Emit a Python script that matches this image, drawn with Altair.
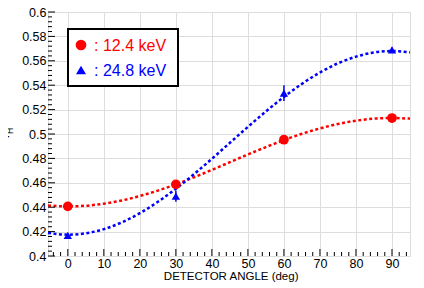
import altair as alt
import pandas as pd

# measured points
angles = [0, 30, 60, 90]
r_124 = [0.4407, 0.4587, 0.4953, 0.5131]
e_124 = [0.0015, 0.0015, 0.0015, 0.0015]
r_248 = [0.4169, 0.4490, 0.5335, 0.5690]
e_248 = [0.0020, 0.0045, 0.0065, 0.0020]

# fitted curves
curve_x = [-5.5, 0, 5, 10, 15, 20, 25, 30, 35, 40, 45, 50, 55, 60, 65, 70, 75, 80, 85, 90, 95]
curve_124 = [0.4414, 0.4407, 0.4412, 0.4429, 0.4455, 0.4492, 0.4536, 0.4588, 0.4645, 0.4706,
             0.4769, 0.4832, 0.4893, 0.4950, 0.5002, 0.5046, 0.5082, 0.5109, 0.5126, 0.5131, 0.5126]
curve_248 = [0.4189, 0.4175, 0.4186, 0.4220, 0.4276, 0.4351, 0.4444, 0.4551, 0.4670, 0.4797,
             0.4928, 0.5058, 0.5185, 0.5304, 0.5411, 0.5504, 0.5579, 0.5634, 0.5669, 0.5680, 0.5669]

x_major = [0, 10, 20, 30, 40, 50, 60, 70, 80, 90]
x_minor = [v for v in range(-4, 95, 2) if v % 10 != 0]
y_major = [0.4, 0.42, 0.44, 0.46, 0.48, 0.5, 0.52, 0.54, 0.56, 0.58, 0.6]
y_minor = [round(0.4 + 0.004 * i, 3) for i in range(51) if i % 5 != 0]

W, H = 362, 244
FONT = "Liberation Sans"
RED, BLUE = "#ff0000", "#0000ff"

xs = alt.Scale(domain=[-5.5, 95], nice=False, zero=False)
ys = alt.Scale(domain=[0.4, 0.6], nice=False, zero=False)

pts = pd.DataFrame({
    "angle": angles * 2,
    "r": r_124 + r_248,
    "lo": [a - b for a, b in zip(r_124, e_124)] + [a - b for a, b in zip(r_248, e_248)],
    "hi": [a + b for a, b in zip(r_124, e_124)] + [a + b for a, b in zip(r_248, e_248)],
    "series": ["12.4"] * 4 + ["24.8"] * 4,
})
curves = pd.DataFrame({
    "angle": curve_x * 2,
    "r": curve_124 + curve_248,
    "series": ["12.4"] * len(curve_x) + ["24.8"] * len(curve_x),
})
color = alt.Color("series:N", scale=alt.Scale(domain=["12.4", "24.8"], range=[RED, BLUE]), legend=None)

xaxis = alt.Axis(values=x_major, tickCount=20, grid=True, ticks=False, domain=False, labelFont=FONT,
                 labelFontSize=12.5, labelColor="black", labelPadding=1,
                 labelOverlap=False, labelFlush=False,
                 title="DETECTOR ANGLE (deg)", titleFont=FONT, titleFontSize=11.5,
                 titleFontWeight="normal", titleColor="black", titleAlign="right",
                 titleBaseline="alphabetic", titleX=250, titleY=23.5)
yaxis = alt.Axis(values=y_major, tickCount=20, grid=True, ticks=False, domain=False, labelFont=FONT,
                 labelFontSize=12.5, labelColor="black", labelPadding=2, title=None,
                 labelOverlap=False, labelFlush=False,
                 labelExpr="format(datum.value, '.2~f')")

base = alt.Chart(pts)

grid = alt.Chart(pd.DataFrame({"angle": [0], "r": [0.5]})).mark_point(opacity=0).encode(
    x=alt.X("angle:Q", scale=xs, axis=xaxis),
    y=alt.Y("r:Q", scale=ys, axis=yaxis),
)

lines = alt.Chart(curves).mark_line(strokeWidth=2.5, strokeDash=[3, 2.5], interpolate="monotone").encode(
    x=alt.X("angle:Q", scale=xs), y=alt.Y("r:Q", scale=ys), color=color, detail="series:N")

errs = base.mark_rule(strokeWidth=1.5).encode(
    x=alt.X("angle:Q", scale=xs), y=alt.Y("lo:Q", scale=ys), y2="hi:Q", color=color)

circles = base.transform_filter("datum.series == '12.4'").mark_point(
    shape="circle", filled=True, size=95, opacity=1).encode(
    x=alt.X("angle:Q", scale=xs), y=alt.Y("r:Q", scale=ys), color=color)
tris = base.transform_filter("datum.series == '24.8'").mark_point(
    shape="triangle-up", filled=True, size=70, opacity=1).encode(
    x=alt.X("angle:Q", scale=xs), y=alt.Y("r:Q", scale=ys), color=color)

# inward ticks
xt_major = alt.Chart(pd.DataFrame({"t": x_major})).mark_rule(color="black", strokeWidth=1).encode(
    x=alt.X("t:Q", scale=xs), y=alt.value(H), y2=alt.value(H - 7))
xt_minor = alt.Chart(pd.DataFrame({"t": x_minor})).mark_rule(color="black", strokeWidth=1).encode(
    x=alt.X("t:Q", scale=xs), y=alt.value(H), y2=alt.value(H - 4))
yt_major = alt.Chart(pd.DataFrame({"t": y_major})).mark_rule(color="black", strokeWidth=1).encode(
    y=alt.Y("t:Q", scale=ys), x=alt.value(0), x2=alt.value(7))
yt_minor = alt.Chart(pd.DataFrame({"t": y_minor})).mark_rule(color="black", strokeWidth=1).encode(
    y=alt.Y("t:Q", scale=ys), x=alt.value(0), x2=alt.value(4))

# legend box
one = pd.DataFrame({"k": [0]})
box = alt.Chart(one).mark_rect(fill="white", stroke="black", strokeWidth=2).encode(
    x=alt.value(20), x2=alt.value(130), y=alt.value(17), y2=alt.value(74))
leg_c = alt.Chart(one).mark_point(shape="circle", filled=True, size=115, color=RED, opacity=1).encode(
    x=alt.value(33), y=alt.value(33))
leg_t = alt.Chart(one).mark_point(shape="triangle-up", filled=True, size=100, color=BLUE, opacity=1).encode(
    x=alt.value(33), y=alt.value(58))
leg_t1 = alt.Chart(one).mark_text(text=": 12.4 keV", font=FONT, fontSize=16, color=RED,
                                  align="left", baseline="middle").encode(x=alt.value(46), y=alt.value(34))
leg_t2 = alt.Chart(one).mark_text(text=": 24.8 keV", font=FONT, fontSize=16, color=BLUE,
                                  align="left", baseline="middle").encode(x=alt.value(46), y=alt.value(59))

# y title r_H
yt_r = alt.Chart(one).mark_text(text="r", font=FONT, fontSize=12, color="black", angle=270,
                                align="center", baseline="alphabetic").encode(x=alt.value(-39), y=alt.value(124))
yt_h = alt.Chart(one).mark_text(text="H", font=FONT, fontSize=8.5, color="black", angle=270,
                                align="center", baseline="alphabetic").encode(x=alt.value(-35.5), y=alt.value(119))

chart = alt.layer(
    grid, lines, errs, circles, tris, xt_major, xt_minor, yt_major, yt_minor,
    box, leg_c, leg_t, leg_t1, leg_t2, yt_r, yt_h
).properties(
    width=W, height=H,
    autosize=alt.AutoSizeParams(type="none"),
    padding={"left": 40, "top": 4, "right": 6, "bottom": 30},
).configure_view(stroke="black", strokeWidth=1.5).configure_axis(
    gridColor="#666666", gridDash=[2, 2], gridWidth=1, gridOpacity=1
).configure(background="white")

chart.save("out.html", embed_options={"renderer": "svg", "actions": False})
